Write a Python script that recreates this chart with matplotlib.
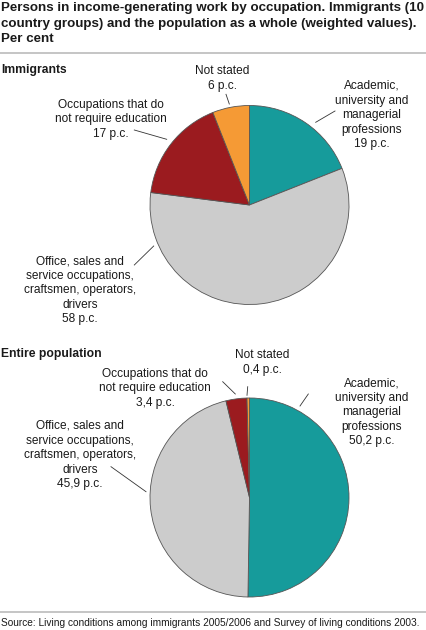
import matplotlib
matplotlib.use("Agg")
import matplotlib.pyplot as plt

# ---- data ----
categories = ["Academic,\nuniversity and\nmanagerial\nprofessions",
              "Office, sales and\nservice occupations,\ncraftsmen, operators,\ndrivers",
              "Occupations that do\nnot require education",
              "Not stated"]
immigrants = [19, 58, 17, 6]
immigrants_lbl = ["19 p.c.", "58 p.c.", "17 p.c.", "6 p.c."]
population = [50.2, 45.9, 3.4, 0.4]
population_lbl = ["50,2 p.c.", "45,9 p.c.", "3,4 p.c.", "0,4 p.c."]
colors = ["#169b9b", "#cccccc", "#9b1b1f", "#f59a35"]

title = ("Persons in income-generating work by occupation. Immigrants (10\n"
         "country groups) and the population as a whole (weighted values).\n"
         "Per cent")
source = "Source: Living conditions among immigrants 2005/2006 and Survey of living conditions 2003."

W, H = 426, 630
fig = plt.figure(figsize=(W / 100, H / 100), dpi=100)
plt.rcParams['font.family'] = ['Liberation Sans', 'DejaVu Sans']

# overlay axes in pixel coordinates
ov = fig.add_axes([0, 0, 1, 1])
ov.set_xlim(0, W)
ov.set_ylim(H, 0)
ov.axis("off")

def pie_axes(cx, cy, r):
    ax = fig.add_axes([(cx - r) / W, 1 - (cy + r) / H, 2 * r / W, 2 * r / H])
    return ax

def finish(ax):
    ax.set_xlim(-1, 1)
    ax.set_ylim(-1, 1)
    ax.set_aspect("auto")
    ax.axis("off")

R = 99.5
ax1 = pie_axes(249.5, 205, R)
ax1.pie(immigrants, colors=colors, startangle=90, counterclock=False, radius=1,
        wedgeprops=dict(edgecolor="#555555", linewidth=0.6))
finish(ax1)
ax2 = pie_axes(249.5, 497.5, R)
ax2.pie(population, colors=colors, startangle=90, counterclock=False, radius=1,
        wedgeprops=dict(edgecolor="#555555", linewidth=0.6))
finish(ax2)

# title
ov.text(1, 1.8, title, fontsize=9.6, fontweight="bold", va="top", ha="left",
        color="#1a1a1a", linespacing=1.42)
ov.plot([0, W], [52.5, 52.5], color="#bbbbbb", lw=1.2)
ov.plot([0, W], [611.5, 611.5], color="#bbbbbb", lw=1.2)
ov.text(1, 623, source, fontsize=7.27, va="center", ha="left", color="#1a1a1a")

ov.text(1, 69.5, "Immigrants", fontsize=8.7, fontweight="bold", va="center", ha="left", color="#1a1a1a")
ov.text(1, 354.5, "Entire population", fontsize=8.7, fontweight="bold", va="center", ha="left", color="#1a1a1a")

lab_fs = 8.6
def lab(x, ytop, text):
    ov.text(x, ytop, text, fontsize=lab_fs, ha="center", va="top", color="#1a1a1a",
            linespacing=1.28, multialignment="center")

def lead(x0, y0, x1, y1):
    ov.plot([x0, x1], [y0, y1], color="#333333", lw=0.6)

# Immigrants labels
lab(372, 80, categories[0] + "\n" + immigrants_lbl[0])
lab(80, 255, categories[1] + "\n" + immigrants_lbl[1])
lab(111, 98.7, categories[2] + "\n" + immigrants_lbl[2])
lab(222, 65, categories[3] + "\n" + immigrants_lbl[3])
lead(315.7, 122.3, 335, 111)
lead(229.3, 104, 226, 94.3)
lead(166.7, 139.3, 134.3, 130)
lead(153.7, 246, 134.3, 265)

# Entire population labels
lab(372, 377.3, categories[0] + "\n" + population_lbl[0])
lab(80, 420, categories[1] + "\n" + population_lbl[1])
lab(155, 367.7, categories[2] + "\n" + population_lbl[2])
lab(262.3, 349.3, categories[3] + "\n" + population_lbl[3])
lead(300, 406, 308.3, 394)
lead(247, 395.3, 247.7, 386.7)
lead(235.3, 394, 222.7, 381.7)
lead(146, 491.7, 111, 466.7)

fig.savefig("out.png", dpi=100)
